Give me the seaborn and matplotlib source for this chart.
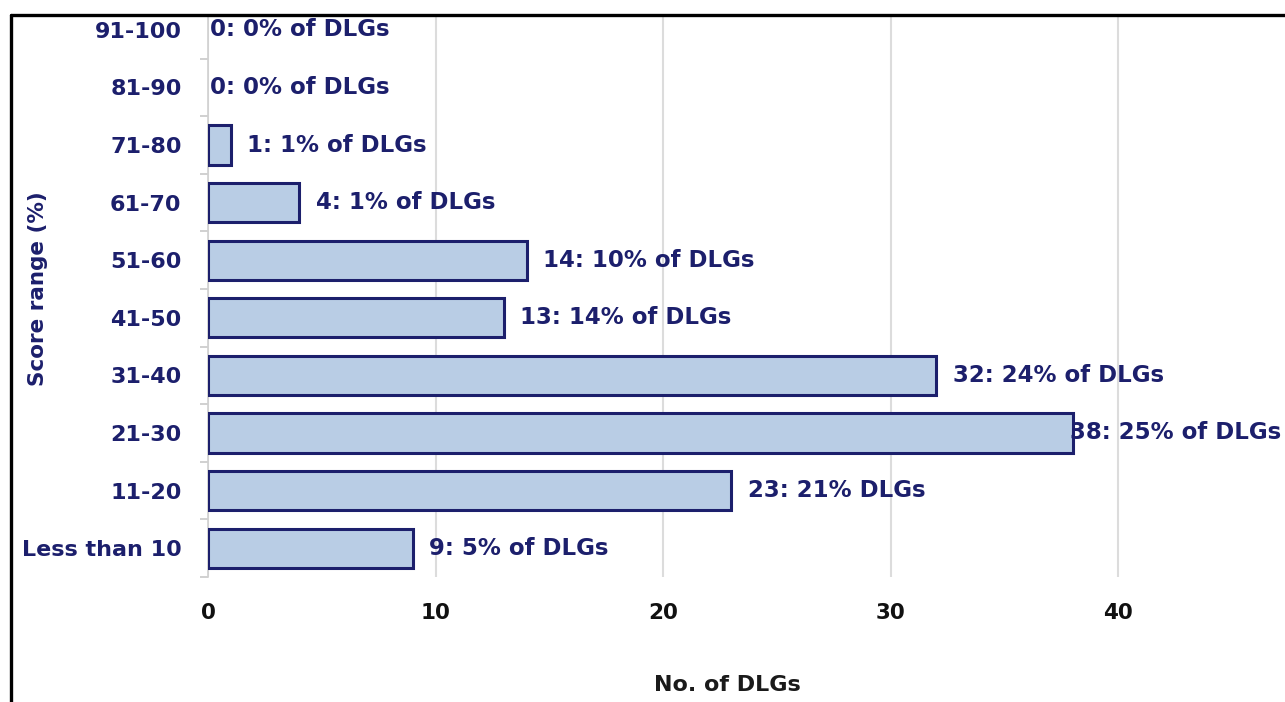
import numpy as np
import pandas as pd
import seaborn as sns
import matplotlib.pyplot as plt
from matplotlib.lines import Line2D
from matplotlib.patches import Rectangle

# score ranges, top to bottom as in the chart
score_ranges = ["91-100", "81-90", "71-80", "61-70", "51-60",
                "41-50", "31-40", "21-30", "11-20", "Less than 10"]
dlg_counts = [0, 0, 1, 4, 14, 13, 32, 38, 23, 9]
bar_labels = ["0: 0% of DLGs", "0: 0% of DLGs", "1: 1% of DLGs", "4: 1% of DLGs",
              "14: 10% of DLGs", "13: 14% of DLGs", "32: 24% of DLGs",
              "38: 25% of DLGs", "23: 21% DLGs", "9: 5% of DLGs"]
x_ticks = [0, 10, 20, 30, 40]

df = pd.DataFrame({"range": score_ranges, "count": dlg_counts})

sns.set_style("white")
plt.rcParams['font.family'] = ['DejaVu Sans']
plt.rcParams['font.weight'] = 'bold'

navy = '#1c1f6c'
fill = '#b9cde5'

fig = plt.figure(figsize=(12.85, 7.02), dpi=100)
ax = fig.add_axes([208 / 1285, 125 / 702, 1077 / 1285, 576 / 702])

sns.barplot(data=df, x="count", y="range", order=score_ranges, orient='h',
            color=fill, saturation=1, width=0.68, edgecolor=navy, linewidth=2.2,
            ax=ax, zorder=3)

# hide zero-width bars so their edge does not show as a line
for p in ax.patches:
    if p.get_width() == 0:
        p.set_visible(False)

ax.set_xlim(0, 1077 / 22.75)
ax.set_ylim(9.5, -0.5)
ax.set_xticks(x_ticks)
ax.xaxis.grid(True, color='#dcdcdc', linewidth=1.5, zorder=0)
ax.set_axisbelow(True)

for s in ['top', 'right', 'bottom']:
    ax.spines[s].set_visible(False)
ax.spines['left'].set_color('#d0d0d0')
ax.spines['left'].set_linewidth(1.2)

ax.tick_params(axis='x', length=0, pad=19, labelsize=15.5, labelcolor='#111111')
ax.tick_params(axis='y', which='major', length=0, pad=19, labelsize=16, labelcolor=navy)
ax.set_yticks(np.arange(-0.5, 10, 1), minor=True)
ax.tick_params(axis='y', which='minor', left=True, length=6, width=1.2, color='#c8c8c8')
for t in ax.get_xticklabels() + ax.get_yticklabels():
    t.set_fontweight('bold')

for i, (v, txt) in enumerate(zip(dlg_counts, bar_labels)):
    off = 12 if v > 0 else 1.5
    if v == max(dlg_counts):
        off = -2
    ax.annotate(txt, xy=(v, i), xytext=(off, 0), textcoords='offset points',
                va='center', ha='left', fontsize=16.5, fontweight='bold',
                color=navy, zorder=5)

ax.set_xlabel("No. of DLGs", fontsize=16, fontweight='bold', color='#1a1a1a')
ax.xaxis.set_label_coords((727 - 208) / 1077, (577 - 685) / 576)
ax.xaxis.label.set_va('center')
ax.set_ylabel("Score range (%)", fontsize=15.5, fontweight='bold', color=navy)
ax.yaxis.set_label_coords((38 - 208) / 1077, 0.5)
ax.yaxis.label.set_va('center')

# white strip above the frame and the black frame lines
fig.patches.append(Rectangle((0, 1 - 14 / 702), 1, 14 / 702, transform=fig.transFigure,
                             facecolor='white', edgecolor='none', zorder=10))
fig.patches.append(Rectangle((0, 0), 9.5 / 1285, 1, transform=fig.transFigure,
                             facecolor='white', edgecolor='none', zorder=10))
fig.lines.append(Line2D([10.7 / 1285, 1], [1 - 15 / 702, 1 - 15 / 702],
                        transform=fig.transFigure, color='black', linewidth=2.4, zorder=11))
fig.lines.append(Line2D([10.7 / 1285, 10.7 / 1285], [0, 1 - 15 / 702],
                        transform=fig.transFigure, color='black', linewidth=2.4, zorder=11))

fig.savefig("out.png", dpi=100)
